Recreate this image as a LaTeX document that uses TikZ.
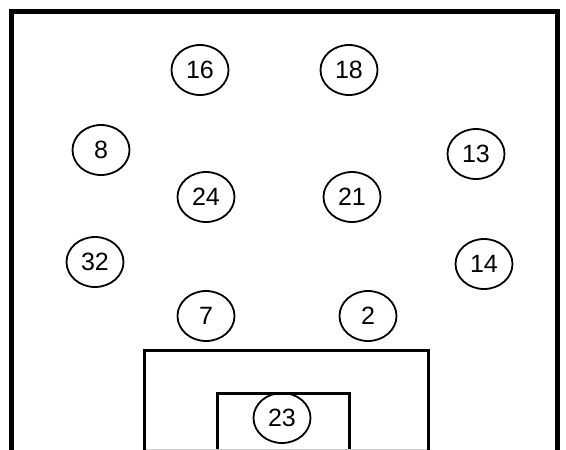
\documentclass[tikz,border=0pt]{standalone}
\usepackage{fontspec}
\setmainfont{Liberation Sans}
\usetikzlibrary{shapes.geometric}

\begin{document}
\begin{tikzpicture}[x=1pt,y=-1pt,
  seat/.style={ellipse,draw=black,line width=1.8pt,minimum width=57pt,minimum height=50pt,inner sep=0pt,font=\fontsize{25}{25}\selectfont},
  wall/.style={draw=black,line width=5pt},
  box/.style={draw=black,line width=3pt}]
  \useasboundingbox (0,0) rectangle (566,450);
  \clip (0,0) rectangle (566,450);
  % room walls and the two tables at the bottom
  \draw[wall] (11.5,470) -- (11.5,11) -- (557,11) -- (557,470);
  \draw[box] (144,470) -- (144,350.5) -- (428.5,350.5) -- (428.5,470);
  \draw[box] (217.5,470) -- (217.5,393.5) -- (349.5,393.5) -- (349.5,470);
  \draw[black!20,line width=1pt] (145.5,449.5) -- (427,449.5);
  % seats
  \coordinate (p16) at (200,70);
  \coordinate (p18) at (349,70);
  \coordinate (p8) at (101,150);
  \coordinate (p13) at (476,154);
  \coordinate (p24) at (206,197);
  \coordinate (p21) at (352,197);
  \coordinate (p32) at (95,262);
  \coordinate (p14) at (484,264);
  \coordinate (p7) at (206,316);
  \coordinate (p2) at (368,316);
  \coordinate (p23) at (282,418);
  \foreach \k in {16,18,8,13,24,21,32,14,7,2,23}
    \node[seat] (s\k) at (p\k) {\k};
\end{tikzpicture}
\end{document}
